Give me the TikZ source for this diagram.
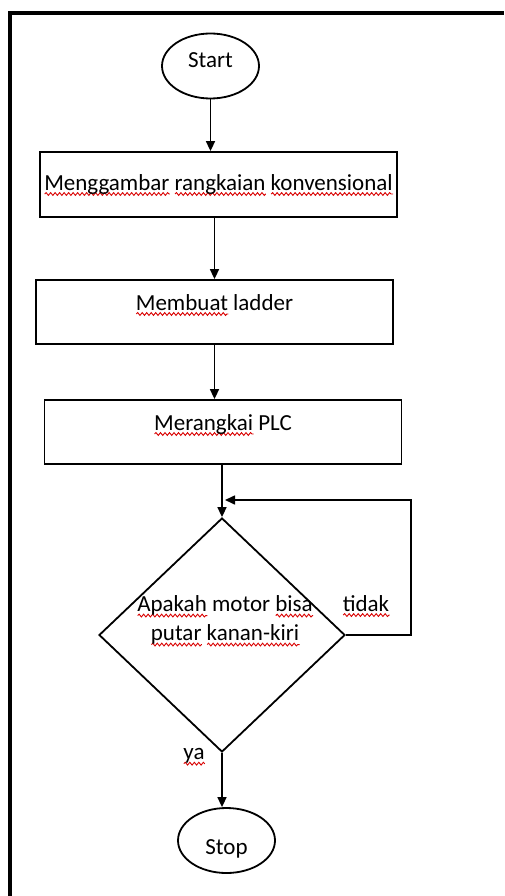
\documentclass[tikz,border=0pt]{standalone}
\usepackage{fontspec}
\setmainfont{Carlito}
\usetikzlibrary{arrows.meta,shapes.geometric,positioning,decorations.pathmorphing}
% red wavy underline of the spell checker
\newlength\spellwd
\newcommand\spellmark[1]{\settowidth\spellwd{#1}%
  \rlap{\tikz[baseline=0pt]\draw[red!85!black, line width=0.9pt, decorate,
    decoration={snake, amplitude=1.4pt, segment length=4.5pt}]
    (0pt,-4pt) -- (\spellwd,-4pt);}#1}
\tikzset{%
  >={Triangle[width=9pt,length=10pt]},
  % Specifications for style of nodes:
       base/.style = {draw=black, line width=1.8pt, inner sep=0pt,
                      font=\fontsize{23}{29}\selectfont},
  startstop/.style = {base, ellipse, minimum width=97pt, minimum height=65pt},
    process/.style = {base, rectangle, minimum width=357pt,
                      minimum height=64pt, text height=16pt},
   decision/.style = {base, diamond, minimum width=246pt, minimum height=234pt},
       note/.style = {inner sep=0pt, font=\fontsize{23}{29}\selectfont},
}

\begin{document}
\begin{tikzpicture}[x=1pt, y=-1pt, line width=1.6pt]
  \useasboundingbox (0,0) rectangle (504,896);
  % outer frame
  \draw[line width=4pt] (10,896) -- (10,13) -- (504,13);
  % Specification of nodes (position, etc.)
  \node (start)  [startstop, text height=16pt, text depth=12pt] at (210.5,66) {Start};
  \node (sketch) [process, minimum height=65pt, text depth=5pt] at (218.5,184.5)
        {\spellmark{Menggambar} \spellmark{rangkaian} \spellmark{konvensional}};
  \node (ladder) [process, text depth=20pt] at (214.5,312) {\spellmark{Membuat} ladder};
  \node (plc)    [process, text depth=20pt] at (223,432) {\spellmark{Merangkai} PLC};
  \node (check)  [decision] at (222,635) {};
  \node (ask)    [note, align=center] at (225,621)
        {\spellmark{Apakah} motor \spellmark{bisa}\\ \spellmark{putar} \spellmark{kanan-kiri}};
  \node (stop)   [startstop, text height=27pt, text depth=0pt] at (226.5,840.5) {Stop};
  \node (no)     [note] at (366,606) {\spellmark{tidak}};
  \node (yes)    [note] at (194,757) {\spellmark{ya}};
  \coordinate (back) at (225,500);
  % Specification of lines between nodes specified above
  \draw[->] (start.south) -- (start.south |- sketch.north);
  \draw[->] (sketch.south -| ladder.north) -- (ladder.north);
  \draw[->] (ladder.south) -- (ladder.south |- plc.north);
  \draw[->] (plc.south -| check.north) -- (check.north);
  \draw[->] (check.south) -- (check.south |- stop.north);
  \draw[->] (check.east) -- ++(65,0) |- (back);
\end{tikzpicture}
\end{document}
